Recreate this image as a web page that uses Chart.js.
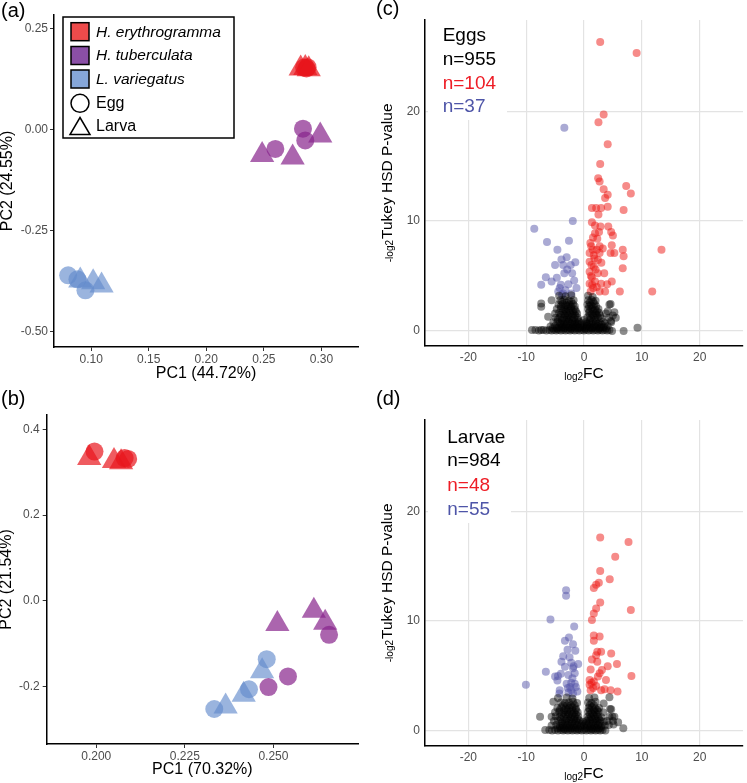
<!DOCTYPE html>
<html>
<head>
<meta charset="utf-8">
<script src="https://cdn.jsdelivr.net/npm/chart.js@4.4.1/dist/chart.umd.min.js"></script>
<style>
  html, body { margin: 0; padding: 0; background: #fff; }
  #fig { position: relative; width: 747px; height: 783px; overflow: hidden; }
  canvas { position: absolute; }
</style>
</head>
<body>
<div id="fig">
  <canvas id="pa" width="372" height="390" style="left:0;top:0"></canvas>
  <canvas id="pb" width="372" height="393" style="left:0;top:390px"></canvas>
  <canvas id="pc" width="375" height="390" style="left:372px;top:0"></canvas>
  <canvas id="pd" width="375" height="393" style="left:372px;top:390px"></canvas>
</div>
<script>
// === PCA (a) : PC1 44.72% / PC2 24.55% ===
const aHeEgg   = [[0.285, 0.153], [0.287, 0.151], [0.288, 0.154]];
const aHeLarva = [[0.282, 0.151], [0.286, 0.152], [0.289, 0.149]];
const aHtEgg   = [[0.284, 0.002], [0.260, -0.048], [0.286, -0.027]];
const aHtLarva = [[0.299, -0.015], [0.2485, -0.063], [0.275, -0.069]];
const aLvEgg   = [[0.080, -0.360], [0.088, -0.370], [0.095, -0.397]];
const aLvLarva = [[0.0905, -0.373], [0.1017, -0.377], [0.109, -0.385]];
const aXTicks = [0.10, 0.15, 0.20, 0.25, 0.30];
const aXLabels = ['0.10', '0.15', '0.20', '0.25', '0.30'];
const aYTicks = [0.25, 0, -0.25, -0.5];
const aYLabels = ['0.25', '0.00', '-0.25', '-0.50'];

// === PCA (b) : PC1 70.32% / PC2 21.54% ===
const bHeEgg   = [[0.1995, 0.348], [0.208, 0.333], [0.209, 0.331]];
const bHeLarva = [[0.198, 0.333], [0.205, 0.326], [0.207, 0.323]];
const bHtEgg   = [[0.2657, -0.079], [0.2541, -0.176], [0.2486, -0.201]];
const bHtLarva = [[0.2511, -0.054], [0.2614, -0.023], [0.2646, -0.051]];
const bLvEgg   = [[0.2481, -0.136], [0.2431, -0.206], [0.2333, -0.252]];
const bLvLarva = [[0.2468, -0.164], [0.2416, -0.219], [0.2365, -0.246]];
const bXTicks = [0.200, 0.225, 0.250];
const bXLabels = ['0.200', '0.225', '0.250'];
const bYTicks = [0.4, 0.2, 0, -0.2];
const bYLabels = ['0.4', '0.2', '0.0', '-0.2'];

// === Volcano plots (c) eggs, (d) larvae : [log2FC, -log2 p] ===
const volXTicks = [-20, -10, 0, 10, 20];
const volXLabels = ['-20', '-10', '0', '10', '20'];
const volYTicks = [0, 10, 20];
const volYLabels = ['0', '10', '20'];
const eggCounts = ['Eggs', 'n=955', 'n=104', 'n=37'];
const larvaCounts = ['Larvae', 'n=984', 'n=48', 'n=55'];

const cUp = [[2.8,26.3],[9.1,25.3],[3.4,19.7],[2.5,19.0],[4.1,17.0],[2.8,15.2],[2.45,13.9],[2.7,13.6],[7.3,13.2],[3.4,12.9],
  [4.1,12.4],[8.1,12.5],[3.65,12.1],[1.37,11.2],[2.1,11.2],[2.96,11.2],[4.1,11.3],[2.5,10.6],[6.85,11.0],[1.37,9.9],
  [2.85,9.5],[4.2,9.5],[4.7,9.0],[5.0,8.7],[1.9,8.9],[1.55,8.5],[2.3,8.4],[1.25,7.7],[2.7,7.7],[3.25,7.5],
  [4.8,7.8],[6.7,7.4],[13.4,7.4],[0.97,7.1],[1.7,6.9],[2.7,7.1],[4.6,7.1],[5.25,7.1],[6.85,6.8],[0.97,6.3],
  [2.4,6.45],[1.7,5.85],[6.7,5.7],[0.97,5.4],[2.4,5.25],[3.5,5.25],[1.37,4.9],[0.97,4.3],[1.9,4.5],[2.96,4.3],
  [4.0,4.25],[4.8,4.5],[1.6,3.9],[2.7,3.6],[3.65,3.6],[6.2,3.6],[11.8,3.6],[1.15,3.6],[1.3,6.0],[2.0,5.6],
  [1.1,8.0],[2.2,7.4],[1.8,6.6],[1.2,5.0],[2.2,4.0],[1.5,7.4],[1.9,9.6],[2.6,9.0],[3.0,6.2],[1.4,4.2]];
const cDown = [[-3.4,18.5],[-1.94,10.0],[-8.6,9.3],[-6.4,8.1],[-2.6,8.2],[-4.6,7.4],[-3.0,6.7],[-3.9,6.5],[-5.0,6.0],
  [-1.5,6.25],[-2.3,6.0],[-3.6,6.0],[-6.6,4.9],[-7.4,4.2],[-5.6,4.5],[-4.7,4.85],[-3.4,5.25],[-2.05,5.25],[-1.7,4.6],
  [-4.2,3.9],[-2.7,4.25],[-1.3,3.9],[-3.6,3.4],[-4.45,3.6],[-2.2,3.4],[-3.2,3.7],[-4.0,4.2],[-2.9,5.6],[-3.8,3.3]];
const cNs = [[-9.0,0.1],[-8.4,0.1],[-7.8,0.05],[-7.4,0.1],[-7.0,0.1],[-6.5,0.05],[-6.0,0.1],[-5.6,0.05],[-5.2,0.1],[-4.8,0.05],
  [-4.4,0.1],[-4.0,0.05],[-3.6,0.1],[-3.2,0.05],[-2.8,0.1],[-2.4,0.05],[-2.0,0.1],[-1.6,0.05],[-1.2,0.1],[-0.8,0.05],
  [-0.4,0.1],[0.0,0.05],[0.4,0.1],[0.8,0.05],[1.2,0.1],[1.6,0.05],[2.0,0.1],[2.4,0.05],[2.8,0.1],[3.2,0.05],
  [3.6,0.1],[4.0,0.05],[4.4,0.1],[4.85,0.0],[6.85,0.0],[9.25,0.3],
  [-5.4,0.25],[-4.6,0.2],[-3.4,0.25],[-2.2,0.2],[-1.0,0.25],[0.2,0.2],[1.4,0.25],[2.6,0.2],[3.8,0.25],
  [-4.7,0.3],[-3.9,0.3],[-3.3,0.3],[-2.7,0.3],[-2.1,0.3],[-1.5,0.3],[-0.9,0.3],[-0.3,0.3],[0.3,0.3],[0.9,0.3],
  [1.5,0.3],[2.1,0.3],[2.7,0.3],[3.3,0.3],
  [-5.8,0.4],[-5.0,0.45],[-4.3,0.35],[-3.7,0.4],[-3.1,0.45],[-2.5,0.35],[-1.9,0.4],[-1.3,0.45],[-0.7,0.35],[-0.1,0.4],
  [0.5,0.45],[1.1,0.35],[1.7,0.4],[2.3,0.45],[2.9,0.35],[3.5,0.4],[4.1,0.45],
  [-4.0,0.6],[-3.0,0.6],[-2.0,0.6],[-1.0,0.6],[0.0,0.6],[1.0,0.6],[2.0,0.6],[3.0,0.6],
  [-4.2,0.7],[-3.5,0.65],[-2.4,0.7],[-1.7,0.65],[-1.2,0.7],[-0.4,0.7],[0.5,0.65],[1.3,0.7],[2.4,0.65],[3.6,0.7],
  [-5.3,0.8],[-4.6,0.85],[-3.9,0.75],[-3.3,0.8],[-2.7,0.85],[-2.1,0.75],[-1.5,0.8],[-0.9,0.85],[0.3,0.8],[0.9,0.75],
  [1.5,0.85],[2.1,0.8],[2.7,0.75],[3.3,0.85],[4.7,0.8],[-3.0,1.0],[-2.0,1.0],[-1.0,1.0],[0.0,1.0],[1.0,1.0],[2.0,1.0],
  [-4.5,1.05],[-3.8,1.0],[-2.6,1.05],
  [-6.2,1.3],[-4.9,1.2],[-4.2,1.25],[-3.5,1.15],[-2.9,1.2],[-2.3,1.25],[-1.7,1.15],[-1.1,1.2],[0.6,1.25],[1.2,1.15],
  [1.8,1.2],[2.4,1.25],[3.0,1.15],[4.3,1.2],[5.5,1.2],[4.65,0.9],[5.0,1.4],
  [-4.0,1.45],[-3.3,1.4],[-2.7,1.4],[-2.0,1.4],[-1.5,1.4],[1.0,1.4],[1.6,1.4],[2.2,1.45],[2.8,1.4],
  [-5.0,1.6],[-4.3,1.65],[-3.6,1.55],[-3.0,1.6],[-2.4,1.65],[-1.8,1.55],[-1.2,1.6],[0.8,1.65],[1.4,1.55],[2.0,1.6],
  [2.6,1.65],[3.8,1.6],[5.25,1.7],
  [-3.7,1.8],[-3.1,1.8],[-2.5,1.85],[-1.9,1.8],[-1.4,1.8],[1.0,1.8],[1.6,1.85],[2.2,1.8],
  [-4.7,2.0],[-4.0,2.05],[-3.4,1.95],[-2.8,2.0],[-2.2,2.05],[-1.6,1.95],[0.7,2.0],[1.3,2.05],[1.9,1.95],[2.5,2.0],[4.1,1.8],
  [-4.0,2.25],[-3.4,2.2],[-2.8,2.25],[-2.2,2.2],[-1.6,2.25],[0.9,2.25],[1.5,2.2],[2.1,2.25],
  [-7.4,2.5],[-7.4,2.2],[-4.4,2.4],[-3.7,2.45],[-3.1,2.35],[-2.5,2.4],[-1.9,2.45],[0.6,2.4],[1.2,2.35],[1.8,2.45],
  [4.4,2.4],[4.6,2.45],
  [-3.8,2.65],[-3.0,2.6],[-2.2,2.65],[1.0,2.6],[1.6,2.65],
  [-5.6,2.8],[-4.1,2.8],[-3.4,2.85],[-2.6,2.75],[-1.8,2.8],[0.7,2.8],[1.3,2.85],[2.0,2.75],
  [-4.3,3.2],[-3.2,3.15],[-2.2,3.25],[0.7,3.2],[1.5,3.1]];

const dUp = [[2.8,17.6],[7.7,17.2],[5.4,15.85],[2.8,14.55],[4.45,13.8],[2.57,13.5],[2.1,13.3],[1.7,13.0],[2.8,11.7],[8.1,11.0],
  [2.1,11.15],[1.7,10.7],[1.37,10.1],[1.7,8.7],[2.7,8.6],[1.7,8.2],[2.3,7.2],[2.96,7.2],[4.7,7.05],[2.1,6.9],
  [1.37,6.5],[2.3,6.3],[5.7,6.1],[4.1,5.9],[1.15,5.6],[3.1,5.55],[2.7,5.25],[2.4,4.95],[8.2,5.0],[3.8,4.65],
  [0.97,4.65],[1.7,4.5],[0.97,4.2],[2.1,4.1],[3.55,3.8],[4.6,3.7],[5.8,3.6],[1.15,3.7],[2.96,3.7],[1.3,4.4],[1.6,3.9]];
const dDown = [[-3.1,12.8],[-3.1,12.3],[-5.8,10.15],[-1.7,9.5],[-2.6,8.5],[-3.3,8.2],[-1.9,7.9],[-2.85,7.4],[-1.5,7.3],
  [-3.6,6.8],[-3.9,6.3],[-2.2,6.2],[-1.0,6.1],[-3.3,5.85],[-1.9,5.7],[-6.6,5.4],[-5.0,4.95],[-4.0,5.2],[-2.7,5.1],
  [-1.6,5.25],[-4.6,4.6],[-3.0,4.3],[-1.6,4.3],[-10.05,4.2],[-4.2,3.7],[-2.2,3.7],[-1.15,3.6],[-2.7,3.5],[-4.25,3.4],
  [-2.0,4.8],[-2.4,4.0],[-1.9,3.4],[-2.5,6.7],[-4.5,5.0],[-2.2,4.4],[-1.4,4.0],[-2.8,3.9],[-1.8,5.9]];
const dNs = [[-7.6,1.3],[-6.7,0.1],[-6.0,0.1],[-5.5,0.05],[-5.0,0.1],[-4.5,0.05],[-4.0,0.1],[-3.6,0.05],[-3.2,0.1],[-2.8,0.05],
  [-2.4,0.1],[-2.0,0.05],[-1.6,0.1],[-1.2,0.05],[-0.8,0.1],[-0.4,0.05],[0.0,0.1],[0.4,0.05],[0.8,0.1],[1.2,0.05],
  [1.6,0.1],[2.0,0.05],[2.4,0.1],[2.8,0.05],[3.2,0.1],[3.7,0.05],[6.8,0.25],
  [-4.6,0.25],[-3.4,0.2],[-2.2,0.25],[-1.0,0.2],[0.2,0.25],[1.4,0.2],[2.6,0.25],
  [-4.2,0.3],[-3.8,0.3],[-3.0,0.3],[-2.6,0.3],[-1.8,0.3],[-1.4,0.3],[-0.6,0.3],[0.6,0.3],[1.0,0.3],[1.8,0.3],[2.2,0.3],[3.0,0.3],
  [-5.6,0.5],[-4.8,0.55],[-4.2,0.45],[-3.6,0.5],[-3.0,0.55],[-2.4,0.45],[-1.8,0.5],[-1.2,0.55],[-0.6,0.45],[0.0,0.5],
  [0.6,0.55],[1.2,0.45],[1.8,0.5],[2.4,0.55],[3.0,0.45],[3.6,0.5],[4.3,0.55],[5.1,0.6],[5.9,0.8],
  [-3.9,0.7],[-3.3,0.7],[-2.7,0.7],[-2.1,0.7],[-1.5,0.7],[-0.9,0.7],[-0.3,0.7],[0.3,0.7],[0.9,0.7],[1.5,0.7],[2.1,0.7],[2.7,0.7],
  [-5.2,0.9],[-4.5,0.95],[-3.8,0.85],[-3.2,0.9],[-2.6,0.95],[-2.0,0.85],[-1.4,0.9],[-0.8,0.95],[-0.2,0.85],[0.4,0.9],
  [1.0,0.95],[1.6,0.85],[2.2,0.9],[2.8,0.95],[3.4,0.85],[4.0,0.9],[5.0,0.9],
  [-4.0,1.1],[-3.0,1.1],[-2.3,1.1],[-1.7,1.1],[-1.1,1.1],[0.8,1.1],[1.4,1.1],[2.0,1.1],[2.6,1.1],
  [-5.6,1.3],[-4.9,1.35],[-4.2,1.25],[-3.5,1.3],[-2.8,1.35],[-2.2,1.25],[-1.6,1.3],[-1.0,1.35],[0.6,1.3],[1.2,1.25],
  [1.8,1.35],[2.4,1.3],[3.0,1.25],[4.4,1.3],[4.9,1.3],[5.25,1.3],
  [-3.9,1.5],[-3.2,1.5],[-2.6,1.5],[-2.0,1.5],[-1.4,1.5],[1.0,1.5],[1.6,1.5],[2.2,1.5],
  [-5.0,1.7],[-4.3,1.75],[-3.6,1.65],[-2.9,1.7],[-2.3,1.75],[-1.7,1.65],[-1.1,1.7],[0.7,1.75],[1.3,1.65],[1.9,1.7],
  [2.5,1.75],[3.3,1.7],
  [-4.2,1.9],[-3.4,1.9],[-2.8,1.9],[-2.0,1.9],[-1.4,1.9],[1.0,1.9],[1.7,1.9],[2.3,1.9],
  [-4.6,2.1],[-3.9,2.15],[-3.2,2.05],[-2.6,2.1],[-2.0,2.15],[-1.4,2.05],[0.8,2.1],[1.4,2.15],[2.0,2.05],[2.6,2.1],
  [4.5,2.0],[4.7,1.97],
  [-3.6,2.35],[-2.9,2.35],[-2.3,2.35],[-1.6,2.35],[1.0,2.35],[1.7,2.35],
  [-5.3,2.65],[-4.0,2.6],[-3.3,2.55],[-2.6,2.6],[-1.9,2.65],[-1.2,2.55],[0.7,2.6],[1.3,2.55],[2.0,2.65],[3.4,2.5],
  [-4.5,3.0],[-3.0,3.05],[-2.0,2.95],[0.9,3.0],[1.8,3.05],[4.4,3.06]];

// === estilos ===
const FONT = '"Liberation Sans", Arial, Helvetica, sans-serif';
const RED = 'rgba(232,22,28,0.7)';
const PURPLE = 'rgba(135,35,140,0.7)';
const BLUE = 'rgba(100,140,205,0.65)';
const TICK_COLOR = '#4d4d4d';

function pts(arr) { return arr.map(p => ({ x: p[0], y: p[1] })); }
function fixedTicks(values) { return s => { s.ticks = values.map(v => ({ value: v })); }; }

function panelLabel(ctx, text, x, y) {
  ctx.font = '20px ' + FONT;
  ctx.fillStyle = '#000';
  ctx.textAlign = 'left';
  ctx.textBaseline = 'middle';
  ctx.fillText(text, x, y);
}

function plainTitle(ctx, text, x, y, rotate) {
  ctx.save();
  ctx.translate(x, y);
  if (rotate) ctx.rotate(-Math.PI / 2);
  ctx.font = '16px ' + FONT;
  ctx.fillStyle = '#000';
  ctx.textAlign = 'center';
  ctx.textBaseline = 'middle';
  ctx.fillText(text, 0, 0);
  ctx.restore();
}

// titulo com parte pequena (subscrito) + parte normal
function mixedTitle(ctx, sub, main, gap, x, y, rotate) {
  ctx.save();
  ctx.translate(x, y);
  if (rotate) ctx.rotate(-Math.PI / 2);
  ctx.fillStyle = '#000';
  ctx.textAlign = 'left';
  ctx.textBaseline = 'alphabetic';
  ctx.font = '10px ' + FONT;
  const ws = ctx.measureText(sub).width + gap;
  ctx.font = '15.5px ' + FONT;
  const wm = ctx.measureText(main).width;
  const x0 = -(ws + wm) / 2;
  ctx.font = '10px ' + FONT;
  ctx.fillText(sub, x0, 1.5);
  ctx.font = '15.5px ' + FONT;
  ctx.fillText(main, x0 + ws, 0);
  ctx.restore();
}

function drawLegendA(ctx) {
  ctx.fillStyle = '#fff';
  ctx.fillRect(63, 17, 171, 121);
  ctx.strokeStyle = '#000';
  ctx.lineWidth = 1.5;
  ctx.strokeRect(63, 17, 171, 121);
  const rows = [
    { y: 31.7, fill: '#ee4b4b', text: 'H. erythrogramma' },
    { y: 55.5, fill: '#8a4fa6', text: 'H. tuberculata' },
    { y: 79, fill: '#86a7da', text: 'L. variegatus' }
  ];
  ctx.textAlign = 'left';
  ctx.textBaseline = 'middle';
  rows.forEach(r => {
    ctx.fillStyle = r.fill;
    ctx.fillRect(71, r.y - 9, 18, 18);
    ctx.strokeRect(71, r.y - 9, 18, 18);
    ctx.fillStyle = '#000';
    ctx.font = 'italic 15.5px ' + FONT;
    ctx.fillText(r.text, 96, r.y + 0.5);
  });
  ctx.beginPath();
  ctx.arc(80, 103.3, 9, 0, Math.PI * 2);
  ctx.stroke();
  ctx.beginPath();
  ctx.moveTo(80, 117.5); ctx.lineTo(90, 134.5); ctx.lineTo(70, 134.5); ctx.closePath();
  ctx.stroke();
  ctx.fillStyle = '#000';
  ctx.font = '16px ' + FONT;
  ctx.fillText('Egg', 96, 104);
  ctx.fillText('Larva', 96, 127);
}

function pcaChart(id, o) {
  const groups = [[o.he, o.heL, RED], [o.ht, o.htL, PURPLE], [o.lv, o.lvL, BLUE]];
  const datasets = [];
  groups.forEach(g => {
    datasets.push({ data: pts(g[1]), pointStyle: 'triangle', pointRadius: 14, pointBackgroundColor: g[2], pointBorderWidth: 0 });
    datasets.push({ data: pts(g[0]), pointStyle: 'circle', pointRadius: 9, pointBackgroundColor: g[2], pointBorderWidth: 0 });
  });
  const tickFont = { family: FONT, size: 12 };
  return new Chart(document.getElementById(id), {
    type: 'scatter',
    data: { datasets },
    options: {
      responsive: false, animation: false, devicePixelRatio: 1, events: [],
      layout: { padding: { top: o.padTop, right: o.padRight, left: 0, bottom: 0 } },
      plugins: { legend: { display: false }, tooltip: { enabled: false } },
      scales: {
        x: {
          type: 'linear', min: o.xMin, max: o.xMax,
          afterBuildTicks: fixedTicks(o.xTicks),
          afterFit: s => { s.height = o.xH; },
          grid: { drawOnChartArea: false, drawTicks: true, tickLength: 4, tickColor: '#333', tickWidth: 1 },
          border: { color: '#000', width: 1.5 },
          ticks: { callback: (v, i) => o.xLabels[i], color: TICK_COLOR, font: tickFont, padding: 1, maxRotation: 0, autoSkip: false }
        },
        y: {
          type: 'linear', min: o.yMin, max: o.yMax,
          afterBuildTicks: fixedTicks(o.yTicks),
          afterFit: s => { s.width = o.yW; },
          grid: { drawOnChartArea: false, drawTicks: true, tickLength: 4, tickColor: '#333', tickWidth: 1 },
          border: { color: '#000', width: 1.5 },
          ticks: { callback: (v, i) => o.yLabels[i], color: TICK_COLOR, font: tickFont, padding: o.yPad, autoSkip: false }
        }
      }
    },
    plugins: [{
      id: 'deco',
      afterDraw(chart) {
        const ctx = chart.ctx, a = chart.chartArea;
        ctx.save();
        panelLabel(ctx, o.label, 1, o.labelY);
        plainTitle(ctx, o.yTitle, o.yTitleX, (a.top + a.bottom) / 2, true);
        plainTitle(ctx, o.xTitle, (a.left + a.right) / 2, o.xTitleY, false);
        if (o.legend) drawLegendA(ctx);
        ctx.restore();
      }
    }]
  });
}

function volcanoChart(id, o) {
  const tickFont = { family: FONT, size: 12 };
  const gridOpt = { color: '#e3e3e3', lineWidth: 1.2, drawTicks: false };
  return new Chart(document.getElementById(id), {
    type: 'scatter',
    data: {
      datasets: [
        { data: pts(o.ns), pointRadius: 4, pointBackgroundColor: 'rgba(0,0,0,0.45)', pointBorderWidth: 0 },
        { data: pts(o.down), pointRadius: 4, pointBackgroundColor: 'rgba(85,85,170,0.5)', pointBorderWidth: 0 },
        { data: pts(o.up), pointRadius: 4, pointBackgroundColor: 'rgba(238,24,20,0.5)', pointBorderWidth: 0 }
      ]
    },
    options: {
      responsive: false, animation: false, devicePixelRatio: 1, events: [],
      layout: { padding: { top: o.padTop, right: 0, left: 0, bottom: 0 } },
      plugins: { legend: { display: false }, tooltip: { enabled: false } },
      scales: {
        x: {
          type: 'linear', min: -27.5, max: 27.5,
          afterBuildTicks: fixedTicks(volXTicks),
          afterFit: s => { s.height = o.xH; },
          grid: gridOpt,
          border: { color: '#000', width: 1.5 },
          ticks: { callback: (v, i) => volXLabels[i], color: TICK_COLOR, font: tickFont, padding: 5, maxRotation: 0, autoSkip: false }
        },
        y: {
          type: 'linear', min: -1.34, max: 28.3,
          afterBuildTicks: fixedTicks(volYTicks),
          afterFit: s => { s.width = 53; },
          grid: gridOpt,
          border: { color: '#000', width: 1.5 },
          ticks: { callback: (v, i) => volYLabels[i], color: TICK_COLOR, font: tickFont, padding: 5, autoSkip: false }
        }
      }
    },
    plugins: [{
      id: 'deco',
      beforeDatasetsDraw(chart) {
        // caixa branca atras do texto
        const ctx = chart.ctx;
        ctx.save();
        ctx.fillStyle = '#fff';
        ctx.fillRect(o.box[0], o.box[1], o.box[2] - o.box[0], o.box[3] - o.box[1]);
        ctx.restore();
      },
      afterDraw(chart) {
        const ctx = chart.ctx, a = chart.chartArea;
        ctx.save();
        panelLabel(ctx, o.label, 4, o.labelY);
        mixedTitle(ctx, '-log2', 'Tukey HSD P-value', 1, 19.5, (a.top + a.bottom) / 2, true);
        mixedTitle(ctx, 'log2', 'FC', 0, (a.left + a.right) / 2, o.xTitleY, false);
        const colors = ['#000', '#000', '#ee1c25', '#4e55a8'];
        ctx.font = '19px ' + FONT;
        ctx.textAlign = 'left';
        ctx.textBaseline = 'middle';
        o.text.forEach((t, i) => {
          ctx.fillStyle = colors[i];
          ctx.fillText(t, o.textX, o.textY[i]);
        });
        ctx.restore();
      }
    }]
  });
}

pcaChart('pa', {
  he: aHeEgg, heL: aHeLarva, ht: aHtEgg, htL: aHtLarva, lv: aLvEgg, lvL: aLvLarva,
  xMin: 0.06768, xMax: 0.33181, yMin: -0.53705, yMax: 0.28285,
  xTicks: aXTicks, xLabels: aXLabels, yTicks: aYTicks, yLabels: aYLabels,
  padTop: 15, padRight: 5, xH: 43, yW: 54, yPad: 2,
  label: '(a)', labelY: 11, yTitle: 'PC2 (24.55%)', yTitleX: 8, xTitle: 'PC1 (44.72%)', xTitleY: 373.3,
  legend: true
});

pcaChart('pb', {
  he: bHeEgg, heL: bHeLarva, ht: bHtEgg, htL: bHtLarva, lv: bLvEgg, lvL: bLvLarva,
  xMin: 0.18601, xMax: 0.27386, yMin: -0.3336, yMax: 0.4333,
  xTicks: bXTicks, xLabels: bXLabels, yTicks: bYTicks, yLabels: bYLabels,
  padTop: 25, padRight: 5, xH: 39, yW: 46.7, yPad: 3,
  label: '(b)', labelY: 9, yTitle: 'PC2 (21.54%)', yTitleX: 7, xTitle: 'PC1 (70.32%)', xTitleY: 380,
  legend: false
});

volcanoChart('pc', {
  ns: cNs, down: cDown, up: cUp, padTop: 20, xH: 44.3,
  label: '(c)', labelY: 9.5, xTitleY: 378.3,
  box: [56, 0, 135, 120], text: eggCounts, textX: 70.7, textY: [36, 60, 84, 107]
});

volcanoChart('pd', {
  ns: dNs, down: dDown, up: dUp, padTop: 30, xH: 37.3,
  label: '(d)', labelY: 9, xTitleY: 388.3,
  box: [56, 30, 139, 133], text: larvaCounts, textX: 75.3, textY: [47.3, 71, 95.7, 120]
});
</script>
</body>
</html>
